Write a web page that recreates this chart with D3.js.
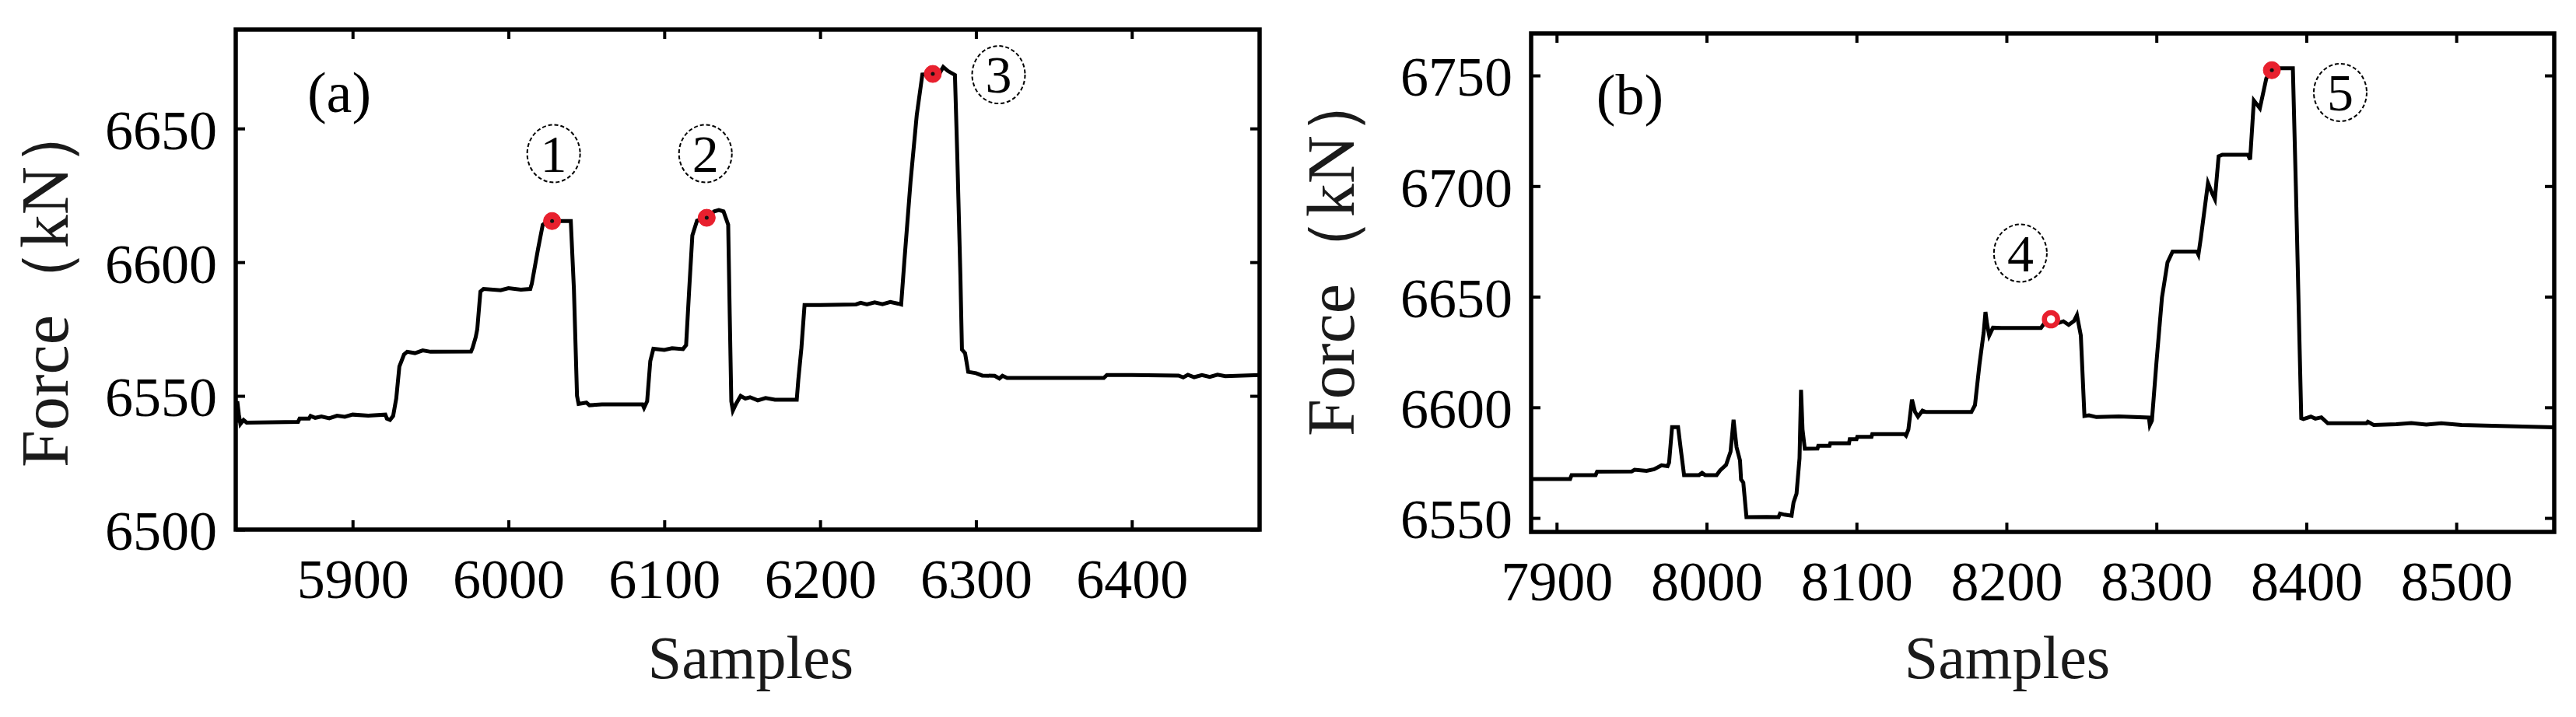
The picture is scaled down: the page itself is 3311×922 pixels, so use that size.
<!DOCTYPE html>
<html>
<head>
<meta charset="utf-8">
<script src="https://cdn.jsdelivr.net/npm/d3@7"></script>
<style>
  body { margin: 0; background: #fff; }
  text { font-family: "Liberation Serif", "Times New Roman", serif; }
</style>
</head>
<body>
<div id="chart"></div>
<script>
// panel (a) trace
const samplesA = [5825.5, 5826, 5827, 5828, 5830, 5832, 5865, 5866, 5872, 5873, 5876, 5880, 5885, 5890, 5895, 5900, 5910, 5921, 5922, 5924, 5926, 5928, 5930, 5933, 5935, 5940, 5945, 5950, 5976, 5977, 5979, 5980, 5982, 5984, 5995, 6000, 6008, 6014, 6015, 6019, 6022, 6025, 6040, 6042, 6044, 6045, 6050, 6052, 6060, 6086, 6087, 6089, 6091, 6093, 6100, 6105, 6112, 6114, 6116, 6118, 6121, 6127, 6132, 6135, 6138, 6141, 6142, 6143, 6144, 6146, 6149, 6152, 6155, 6160, 6165, 6171, 6185, 6186, 6188, 6190, 6200, 6223, 6226, 6230, 6235, 6240, 6245, 6250, 6252, 6254, 6258, 6262, 6265.6, 6272, 6277, 6279, 6282, 6286.5, 6288, 6290, 6291, 6293, 6295, 6300, 6304, 6312, 6315, 6317, 6320, 6382, 6384, 6400, 6430, 6433, 6436, 6440, 6445, 6450, 6455, 6460, 6482];
const forceA = [6540, 6548, 6543, 6539.5, 6541, 6540, 6540.3, 6541.5, 6541.5, 6542.5, 6541.8, 6542.3, 6541.6, 6542.6, 6542.2, 6543, 6542.6, 6543, 6541.5, 6541, 6542.5, 6549, 6561, 6565.5, 6566.5, 6566, 6567, 6566.5, 6566.6, 6568, 6572, 6575, 6589, 6590, 6589.5, 6590.3, 6589.7, 6590, 6592, 6605, 6614, 6615.4, 6615.4, 6590, 6550, 6547, 6547.5, 6546.5, 6546.8, 6546.8, 6545.5, 6548, 6563, 6567.6, 6567.2, 6567.8, 6567.5, 6569, 6590, 6610, 6615.5, 6616.6, 6619, 6619.5, 6619, 6614, 6580, 6548, 6544.5, 6547, 6550, 6549, 6549.5, 6548.3, 6549.2, 6548.6, 6548.6, 6556, 6568, 6584, 6584, 6584.2, 6584.8, 6584.2, 6585, 6584.3, 6585.1, 6584.5, 6584.2, 6600, 6630, 6655, 6670.2, 6670.4, 6671, 6673, 6671.5, 6670, 6640, 6595, 6567.3, 6566, 6559, 6558.5, 6557.6, 6557.5, 6556.5, 6557.5, 6556.7, 6556.7, 6557.8, 6557.8, 6557.6, 6556.9, 6557.9, 6557, 6557.8, 6557.1, 6557.9, 6557.4, 6557.8];

// panel (b) trace
const samplesB = [7883, 7909, 7910, 7926, 7927, 7950, 7952, 7960, 7965, 7970, 7974, 7975, 7977, 7981, 7983, 7985, 7995, 7997, 7999, 8006.7, 8009, 8013, 8016, 8018, 8020, 8022.3, 8023, 8024.5, 8026.6, 8040, 8048, 8049, 8052, 8056.7, 8058, 8060, 8062, 8063, 8064, 8065.5, 8074, 8074.5, 8082, 8082.5, 8095, 8095.5, 8100, 8100.5, 8110, 8110.5, 8132, 8133, 8134.6, 8137, 8139, 8141, 8144, 8146.3, 8176.6, 8179, 8182, 8184.8, 8186, 8187, 8188.5, 8191, 8196.6, 8223, 8226, 8230, 8235, 8238, 8241.5, 8245, 8247, 8249.6, 8252, 8255, 8260, 8275, 8295, 8295.6, 8297, 8300, 8303.7, 8307.4, 8310.8, 8327, 8328, 8329.7, 8334.4, 8337, 8339, 8341.5, 8344, 8361, 8362.5, 8365, 8369, 8373.3, 8377, 8380.3, 8391, 8393, 8396.6, 8398, 8403, 8406, 8410, 8414.3, 8440, 8441, 8445, 8460, 8470, 8480, 8490, 8503.4, 8565];
const forceB = [6567.6, 6567.6, 6569.4, 6569.4, 6570.9, 6571, 6571.8, 6571.3, 6572, 6573.8, 6573.4, 6575, 6591.1, 6591.1, 6580, 6569.4, 6569.4, 6570.4, 6569.4, 6569.4, 6571.5, 6574, 6580, 6594.4, 6582, 6576, 6567.4, 6566, 6550.4, 6550.5, 6550.4, 6552, 6551.5, 6551, 6557, 6561, 6577, 6607.9, 6590, 6581.3, 6581.4, 6582.6, 6582.6, 6583.8, 6583.8, 6585.6, 6585.6, 6586.7, 6586.7, 6587.9, 6587.9, 6587.2, 6590, 6603.5, 6598, 6595.8, 6598.5, 6597.9, 6597.9, 6601, 6619.4, 6633.8, 6643.1, 6638, 6632.4, 6636, 6635.9, 6635.9, 6638.7, 6639.8, 6638.2, 6638.9, 6637.3, 6639, 6641.7, 6632.4, 6596.1, 6596.4, 6595.6, 6595.9, 6595.4, 6592, 6594, 6620, 6649.6, 6665.5, 6670.4, 6670.4, 6669, 6676.9, 6701.4, 6697, 6694.1, 6713.5, 6714.2, 6714.2, 6712, 6738.7, 6735.2, 6748.7, 6752.4, 6753.3, 6753.3, 6700, 6595.1, 6594.7, 6595.8, 6594.9, 6595.5, 6592.8, 6592.8, 6593.5, 6592, 6592.4, 6592.9, 6592.2, 6592.8, 6592, 6591];

// marked peaks and their circled numbers
const peakSamplesA = [6028, 6127.2, 6272.3];
const peakForceA = [6615.4, 6616.6, 6670.4];
const peakSamplesB = [8229.7, 8377];
const peakForceB = [6639.8, 6752.4];
const peakFilledB = [false, true];
const tagTextA = ["1", "2", "3"];
const tagSamplesA = [6029, 6126.4, 6314.5];
const tagForceA = [6640.6, 6640.6, 6670.1];
const tagTextB = ["4", "5"];
const tagSamplesB = [8209.3, 8422.6];
const tagForceB = [6669.7, 6742.3];

// axes
const xTicksA = [5900, 6000, 6100, 6200, 6300, 6400];
const yTicksA = [6500, 6550, 6600, 6650];
const xTicksB = [7900, 8000, 8100, 8200, 8300, 8400, 8500];
const yTicksB = [6550, 6600, 6650, 6700, 6750];
const xDomainA = [5825, 6482];
const yDomainA = [6500, 6687];
const xDomainB = [7883, 8565.3];
const yDomainB = [6543.7, 6769];

const W = 3311, H = 922;
const svg = d3.select("#chart").append("svg")
  .attr("width", W)
  .attr("height", H)
  .style("display", "block");

const drawPanel = (p) => {
  const x = d3.scaleLinear().domain(p.xDomain).range([p.left, p.right]);
  const y = d3.scaleLinear().domain(p.yDomain).range([p.bottom, p.top]);
  const g = svg.append("g");

  const styleAxis = (ax) => {
    ax.select(".domain").remove();
    ax.selectAll(".tick line").attr("stroke", "#000").attr("stroke-width", 4);
    ax.selectAll(".tick text")
      .attr("fill", "#000")
      .attr("font-family", "'Liberation Serif', 'Times New Roman', serif")
      .attr("font-size", 72);
  };

  g.append("g").attr("transform", `translate(0,${p.bottom})`)
    .call(d3.axisBottom(x).tickValues(p.xTicks).tickSize(-12).tickPadding(37).tickFormat(d3.format("d")))
    .call(styleAxis);
  g.append("g").attr("transform", `translate(0,${p.top})`)
    .call(d3.axisTop(x).tickValues(p.xTicks).tickSize(-12).tickFormat(""))
    .call(styleAxis);
  g.append("g").attr("transform", `translate(${p.left},0)`)
    .call(d3.axisLeft(y).tickValues(p.yTicks).tickSize(-12).tickPadding(24).tickFormat(d3.format("d")))
    .call(styleAxis)
    .selectAll(".tick text").attr("dy", "0.36em");
  g.append("g").attr("transform", `translate(${p.right},0)`)
    .call(d3.axisRight(y).tickValues(p.yTicks).tickSize(-12).tickFormat(""))
    .call(styleAxis);

  g.append("rect")
    .attr("x", p.left).attr("y", p.top)
    .attr("width", p.right - p.left).attr("height", p.bottom - p.top)
    .attr("fill", "none").attr("stroke", "#000").attr("stroke-width", 5.5);

  const clipId = "clip-" + p.name;
  g.append("clipPath").attr("id", clipId).append("rect")
    .attr("x", p.left).attr("y", p.top)
    .attr("width", p.right - p.left).attr("height", p.bottom - p.top);

  const pts = p.samples.map((s, i) => [s, p.force[i]]);
  g.append("path")
    .datum(pts)
    .attr("clip-path", `url(#${clipId})`)
    .attr("fill", "none")
    .attr("stroke", "#000")
    .attr("stroke-width", 5)
    .attr("stroke-linejoin", "miter")
    .attr("d", d3.line().x(d => x(d[0])).y(d => y(d[1])));

  // red peak markers
  p.peakSamples.forEach((s, i) => {
    const filled = p.peakFilled ? p.peakFilled[i] : true;
    g.append("circle")
      .attr("cx", x(s)).attr("cy", y(p.peakForce[i]))
      .attr("r", filled ? 11 : 8.5)
      .attr("fill", filled ? "#e8202e" : "#fff")
      .attr("stroke", "#e8202e")
      .attr("stroke-width", filled ? 1 : 6.5);
    if (filled) {
      g.append("circle")
        .attr("cx", x(s)).attr("cy", y(p.peakForce[i]))
        .attr("r", 2.5).attr("fill", "#111");
    }
  });

  // circled numbers
  p.tagText.forEach((t, i) => {
    const cx = x(p.tagSamples[i]), cy = y(p.tagForce[i]);
    g.append("ellipse")
      .attr("cx", cx).attr("cy", cy).attr("rx", 34).attr("ry", 37)
      .attr("fill", "none").attr("stroke", "#000")
      .attr("stroke-width", 2).attr("stroke-dasharray", "5,3");
    g.append("text")
      .attr("x", cx).attr("y", cy + 23)
      .attr("text-anchor", "middle")
      .attr("font-size", 68)
      .attr("fill", "#000")
      .text(t);
  });

  // panel tag
  g.append("text")
    .attr("x", p.tagX).attr("y", p.tagY)
    .attr("text-anchor", "middle")
    .attr("font-size", 74)
    .attr("fill", "#000")
    .text(p.label);

  // axis titles
  g.append("text")
    .attr("x", p.xTitleX).attr("y", 872)
    .attr("text-anchor", "middle")
    .attr("font-size", 78)
    .attr("fill", "#1a1a1a")
    .text("Samples");
  g.append("text")
    .attr("transform", `translate(${p.yTitleX},${p.yTitleY}) rotate(-90)`)
    .attr("text-anchor", "start")
    .attr("font-size", 86)
    .attr("fill", "#1a1a1a")
    .text("Force（kN）");
};

drawPanel({
  name: "a", label: "(a)",
  left: 303, right: 1619, top: 38, bottom: 681,
  xDomain: xDomainA, yDomain: yDomainA, xTicks: xTicksA, yTicks: yTicksA,
  samples: samplesA, force: forceA,
  peakSamples: peakSamplesA, peakForce: peakForceA,
  tagText: tagTextA, tagSamples: tagSamplesA, tagForce: tagForceA,
  tagX: 436, tagY: 144, xTitleX: 965, yTitleX: 87, yTitleY: 601
});

drawPanel({
  name: "b", label: "(b)",
  left: 1968, right: 3283, top: 43, bottom: 684,
  xDomain: xDomainB, yDomain: yDomainB, xTicks: xTicksB, yTicks: yTicksB,
  samples: samplesB, force: forceB,
  peakSamples: peakSamplesB, peakForce: peakForceB, peakFilled: peakFilledB,
  tagText: tagTextB, tagSamples: tagSamplesB, tagForce: tagForceB,
  tagX: 2095, tagY: 147, xTitleX: 2580, yTitleX: 1740, yTitleY: 561
});
</script>
</body>
</html>
